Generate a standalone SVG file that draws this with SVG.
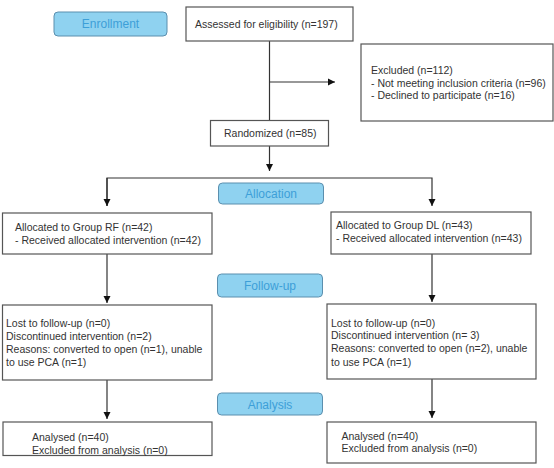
<svg xmlns="http://www.w3.org/2000/svg" width="554" height="468" viewBox="0 0 554 468">
<defs>
<marker id="ah" markerWidth="8" markerHeight="8" refX="7" refY="4" orient="auto" markerUnits="userSpaceOnUse">
<path d="M0,0.5 L7,4 L0,7.5 Z" fill="#111"/>
</marker>
<style>
.box{fill:#fff;stroke:#555;stroke-width:1.2}
.lab{fill:#8fd2f0;stroke:#5b8fae;stroke-width:1}
.t{font-family:"Liberation Sans",Arial,sans-serif;font-size:10.5px;fill:#333}
.lt{font-family:"Liberation Sans",Arial,sans-serif;font-size:12px;fill:#3d9fd8;text-anchor:middle}
.c{fill:none;stroke:#333;stroke-width:1.2}
</style>
</defs>
<rect width="554" height="468" fill="#fff"/>
<g id="connectors">
<path class="c" d="M269.5,41 V120"/>
<path class="c" d="M269.5,82 H335" marker-end="url(#ah)"/>
<path class="c" d="M269.5,146 V171" marker-end="url(#ah)"/>
<path class="c" d="M107,206 V178 H432 V206" marker-end="url(#ah)"/>
<path class="c" d="M107,178 V206" marker-end="url(#ah)"/>
<path class="c" d="M107,254 V303" marker-end="url(#ah)"/>
<path class="c" d="M432,254 V302" marker-end="url(#ah)"/>
<path class="c" d="M107,380 V419" marker-end="url(#ah)"/>
<path class="c" d="M432,379 V418" marker-end="url(#ah)"/>
</g>
<g id="enrollment"><rect class="lab" x="54" y="12" width="113" height="24" rx="4"/><text class="lt" x="110.5" y="28">Enrollment</text></g>
<g id="assessed"><rect class="box" x="186" y="7" width="167" height="34"/><text class="t" x="195" y="27.5">Assessed for eligibility (n=197)</text></g>
<g id="excluded"><rect class="box" x="361" y="44" width="192" height="77"/>
<text class="t" x="371" y="74">Excluded (n=112)</text>
<text class="t" x="371" y="86.5">- Not meeting inclusion criteria (n=96)</text>
<text class="t" x="371" y="99">- Declined to participate (n=16)</text></g>
<g id="randomized"><rect class="box" x="210.5" y="120.5" width="118" height="25.5"/><text class="t" x="224" y="137">Randomized (n=85)</text></g>
<g id="allocation"><rect class="lab" x="218.5" y="183" width="105" height="21" rx="4"/><text class="lt" x="271" y="198">Allocation</text></g>
<g id="alloc-rf"><rect class="box" x="2.5" y="213" width="209.5" height="41"/>
<text class="t" x="15" y="231">Allocated to Group RF (n=42)</text>
<text class="t" x="15" y="244">- Received allocated intervention (n=42)</text></g>
<g id="alloc-dl"><rect class="box" x="331" y="212" width="200" height="42"/>
<text class="t" x="336" y="229">Allocated to Group DL (n=43)</text>
<text class="t" x="336" y="242">- Received allocated intervention (n=43)</text></g>
<g id="followup"><rect class="lab" x="217.5" y="274" width="105" height="23" rx="4"/><text class="lt" x="270" y="290">Follow-up</text></g>
<g id="lost-rf"><rect class="box" x="2.5" y="305" width="209.5" height="75"/>
<text class="t" x="6" y="327">Lost to follow-up (n=0)</text>
<text class="t" x="6" y="340">Discontinued intervention (n=2)</text>
<text class="t" x="6" y="353">Reasons: converted to open (n=1), unable</text>
<text class="t" x="6" y="366">to use PCA (n=1)</text></g>
<g id="lost-dl"><rect class="box" x="327" y="304" width="209" height="75"/>
<text class="t" x="331" y="326.5">Lost to follow-up (n=0)</text>
<text class="t" x="331" y="339">Discontinued intervention (n= 3)</text>
<text class="t" x="331" y="352">Reasons: converted to open (n=2), unable</text>
<text class="t" x="331" y="365.5">to use PCA (n=1)</text></g>
<g id="analysis"><rect class="lab" x="217.5" y="393" width="105" height="22" rx="4"/><text class="lt" x="270" y="408.5">Analysis</text></g>
<g id="analysed-rf"><rect class="box" x="3" y="422" width="209" height="33.5"/>
<text class="t" x="32" y="441">Analysed (n=40)</text>
<text class="t" x="32" y="453.5">Excluded from analysis (n=0)</text></g>
<g id="analysed-dl"><rect class="box" x="327" y="422" width="209" height="41"/>
<text class="t" x="341.5" y="439.5">Analysed (n=40)</text>
<text class="t" x="341.5" y="451.5">Excluded from analysis (n=0)</text></g>
</svg>
